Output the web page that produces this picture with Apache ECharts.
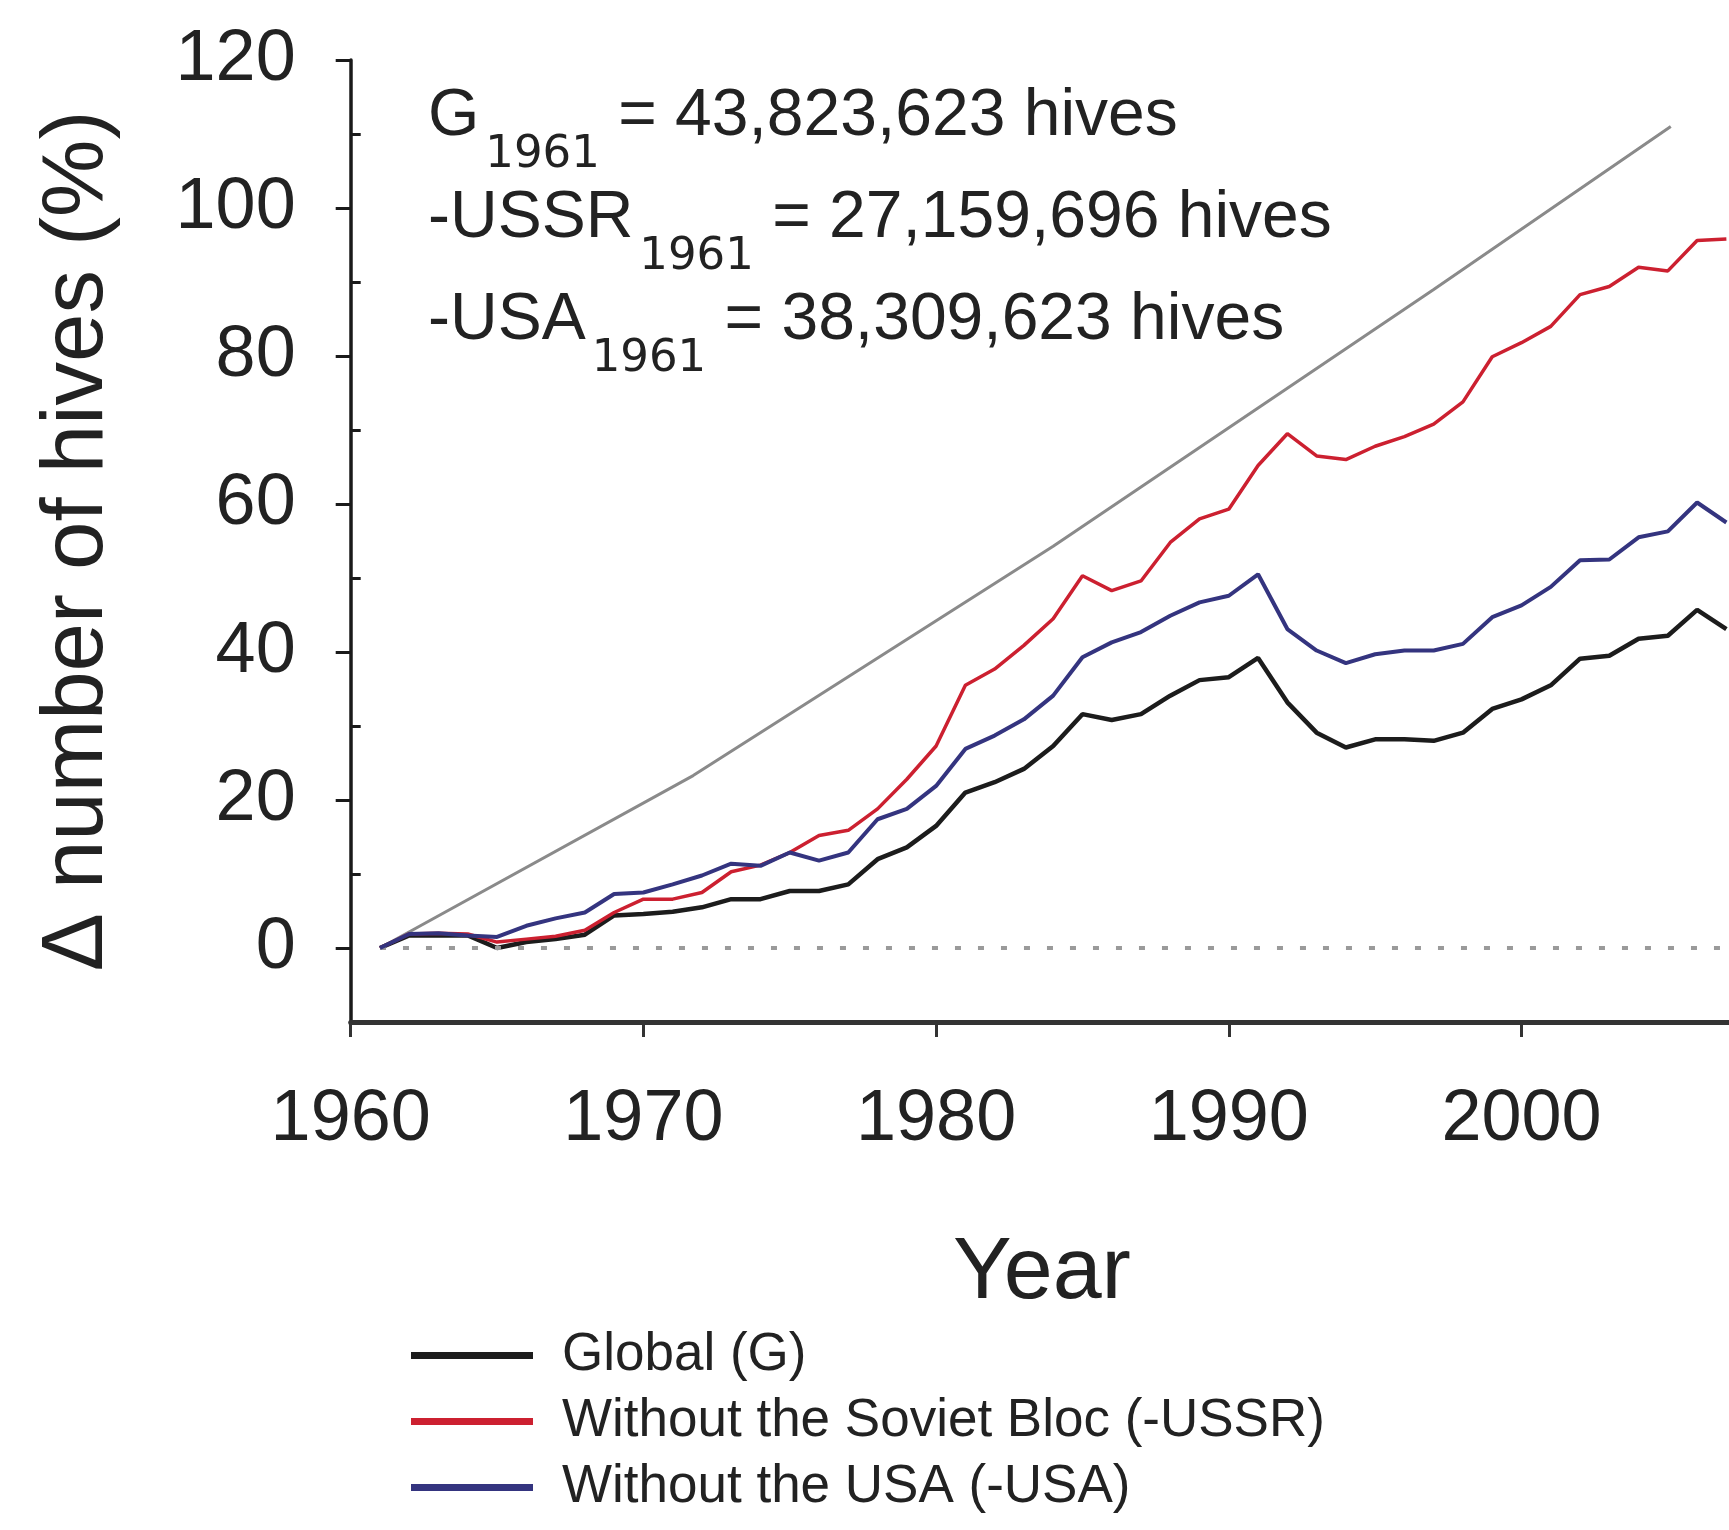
<!DOCTYPE html>
<html><head><meta charset="utf-8">
<script src="https://cdn.jsdelivr.net/npm/echarts@6/dist/echarts.min.js"></script>
<style>html,body{margin:0;padding:0;background:#fff;overflow:hidden}#c{width:1729px;height:1530px}</style>
</head><body><div id="c"></div>
<script>
// ---- data ----
const years = [1961,1962,1963,1964,1965,1966,1967,1968,1969,1970,
  1971,1972,1973,1974,1975,1976,1977,1978,1979,1980,
  1981,1982,1983,1984,1985,1986,1987,1988,1989,1990,
  1991,1992,1993,1994,1995,1996,1997,1998,1999,2000,
  2001,2002,2003,2004,2005,2006,2007];
const globalG = [0,1.7,1.7,1.7,0.0,0.8,1.2,1.8,4.4,4.6,
  4.9,5.5,6.6,6.6,7.7,7.7,8.6,12.0,13.6,16.5,
  21.0,22.4,24.2,27.3,31.6,30.8,31.6,34.1,36.2,36.6,
  39.2,33.2,29.1,27.1,28.2,28.2,28.0,29.1,32.3,33.6,
  35.5,39.1,39.5,41.8,42.2,45.7,43.1];
const withoutUSSR = [0,1.9,2.0,1.9,0.8,1.2,1.6,2.4,4.8,6.6,
  6.6,7.5,10.3,11.2,12.9,15.2,15.9,18.8,22.8,27.3,
  35.5,37.7,40.9,44.5,50.3,48.3,49.6,54.8,58.0,59.3,
  65.2,69.5,66.5,66.0,67.8,69.1,70.8,73.8,79.9,81.8,
  84.0,88.3,89.4,92.0,91.5,95.6,95.8];
const withoutUSA = [0,1.9,2.0,1.7,1.5,3.0,4.0,4.8,7.3,7.5,
  8.6,9.8,11.4,11.1,12.9,11.8,12.9,17.4,18.8,21.9,
  26.9,28.7,30.9,34.1,39.3,41.3,42.7,44.9,46.7,47.6,
  50.5,43.1,40.2,38.5,39.7,40.2,40.2,41.1,44.7,46.3,
  48.8,52.4,52.5,55.5,56.3,60.2,57.5];
const refYears = [1961, 1971.7, 1984, 1997, 2005.1];
const refValues = [0, 23.3, 54.3, 89, 111];
const zeroLineYears = [1961, 2010];
const xTicks = [1960, 1970, 1980, 1990, 2000, 2010];
const yTicks = [0, 20, 40, 60, 80, 100, 120];
const yMinorTicks = [10, 30, 50, 70, 90, 110];
const seriesNames = ['Global (G)', 'Without the Soviet Bloc (-USSR)', 'Without the USA (-USA)'];
const annotLabels = ['G', '-USSR', '-USA'];
const annotYear = '1961';
const annotCounts = ['43,823,623', '27,159,696', '38,309,623'];
const yAxisTitle = '\u0394 number of hives (%)';
const xAxisTitle = 'Year';

// ---- chart ----
const FF = '"Liberation Sans", Arial, Helvetica, sans-serif';
const TXT = '#222';
const chart = echarts.init(document.getElementById('c'), null, {renderer: 'canvas'});
const zip = (xs, ys) => xs.map((x, i) => [x, ys[i]]);
const annotTops = [84, 186, 288];

chart.setOption({
  backgroundColor: '#fff',
  animation: false,
  grid: {left: 350.7, top: 60, width: 1463.5, height: 962, containLabel: false, outerBoundsMode: 'none'},
  xAxis: {
    type: 'value', min: 1960, max: 2010, interval: 10,
    axisLine: {onZero: false, lineStyle: {color: '#333', width: 5}},
    axisTick: {length: 15, lineStyle: {color: '#333', width: 3}, customValues: xTicks},
    axisLabel: {fontSize: 72, fontFamily: FF, color: TXT, margin: 62, customValues: xTicks,
      formatter: v => String(v)},
    splitLine: {show: false}
  },
  yAxis: [{
    type: 'value', min: -10, max: 120,
    name: yAxisTitle, nameLocation: 'middle', nameRotate: 90, nameGap: 229.5,
    nameTextStyle: {fontSize: 87, fontFamily: FF, color: TXT},
    axisLine: {show: true, onZero: false, lineStyle: {color: '#1a1a1a', width: 3.5}},
    axisTick: {show: true, length: 15, lineStyle: {color: '#1a1a1a', width: 3}, customValues: yTicks},
    axisLabel: {fontSize: 72, fontFamily: FF, color: TXT, margin: 55, customValues: yTicks},
    splitLine: {show: false}
  }, {
    type: 'value', min: -10, max: 120, position: 'left',
    axisLine: {show: false, onZero: false},
    axisTick: {show: true, inside: true, length: 10, lineStyle: {color: '#1a1a1a', width: 3}, customValues: yMinorTicks},
    axisLabel: {show: false},
    splitLine: {show: false}
  }],
  legend: {
    data: seriesNames, orient: 'vertical', left: 406, top: 1324,
    icon: 'rect', itemWidth: 122, itemHeight: 7, itemGap: 13,
    textStyle: {fontSize: 53, lineHeight: 53, fontFamily: FF, color: TXT, padding: [0, 0, 0, 24]}
  },
  graphic: [
    ...annotLabels.map((lab, i) => ({
      type: 'text', left: 428, top: annotTops[i], silent: true,
      style: {
        text: '{m|' + lab + '}{s|' + annotYear + '}{m| = ' + annotCounts[i] + ' hives}',
        rich: {
          m: {fontSize: 66, lineHeight: 66, verticalAlign: 'top', fontFamily: FF, fill: TXT},
          s: {fontSize: 45, lineHeight: 46, verticalAlign: 'top', padding: [49, 0, 0, 6],
              fontFamily: '"DejaVu Sans", sans-serif', fill: TXT}
        }
      }
    })),
    {type: 'text', x: 1042, y: 1274, silent: true,
      style: {text: xAxisTitle, fontSize: 88, fontFamily: FF, fill: TXT, align: 'center', verticalAlign: 'middle'}}
  ],
  series: [
    {name: 'reference', type: 'line', data: zip(refYears, refValues), showSymbol: false, symbol: 'none',
      lineStyle: {color: '#8a8a8a', width: 3}, z: 1, silent: true,
      markLine: {silent: true, symbol: 'none', label: {show: false},
        lineStyle: {color: '#9a9a9a', width: 4, type: [6, 17]},
        data: [[{coord: [zeroLineYears[0], 0]}, {coord: [zeroLineYears[1], 0]}]]}},
    {name: seriesNames[0], type: 'line', data: zip(years, globalG), symbol: 'none',
      lineStyle: {color: '#1c1c1c', width: 4.5}, itemStyle: {color: '#1c1c1c'}, z: 3},
    {name: seriesNames[1], type: 'line', data: zip(years, withoutUSSR), symbol: 'none',
      lineStyle: {color: '#cc2030', width: 3.5}, itemStyle: {color: '#cc2030'}, z: 4},
    {name: seriesNames[2], type: 'line', data: zip(years, withoutUSA), symbol: 'none',
      lineStyle: {color: '#34347f', width: 4}, itemStyle: {color: '#34347f'}, z: 5}
  ]
});
</script></body></html>
